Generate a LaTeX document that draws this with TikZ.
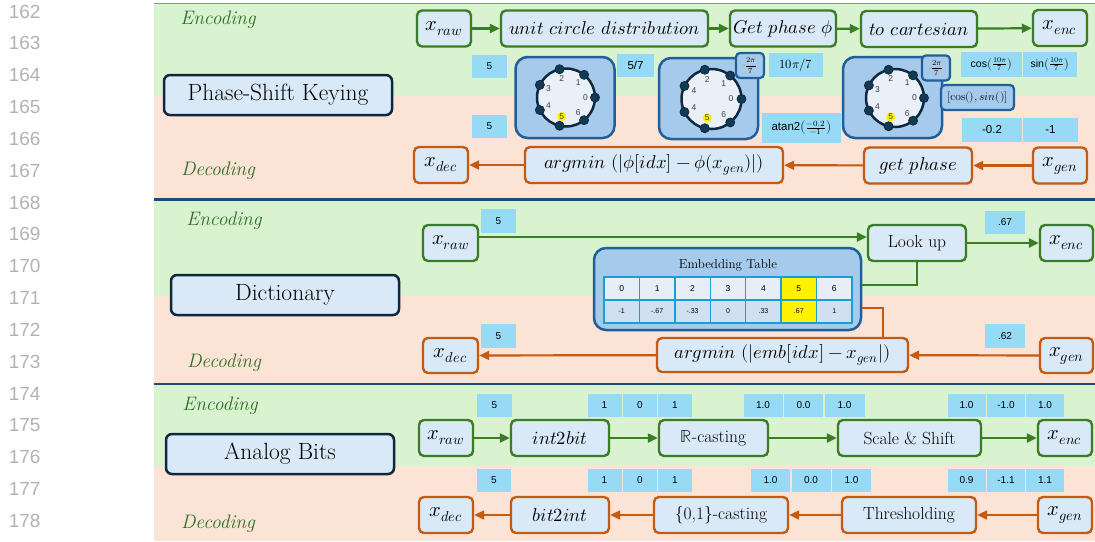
\documentclass[tikz,border=0pt]{standalone}
\usepackage{fontspec}
\usepackage{unicode-math}
\setmathfont{Latin Modern Math}
\setsansfont{Liberation Sans}
\usetikzlibrary{arrows.meta}

\definecolor{encgreen}{RGB}{59,125,35}
\definecolor{decorange}{RGB}{197,90,17}
\definecolor{boxfill}{RGB}{218,233,247}
\definecolor{navy}{RGB}{14,40,65}
\definecolor{encbg}{RGB}{217,242,208}
\definecolor{decbg}{RGB}{251,227,214}
\definecolor{sepblue}{RGB}{23,78,121}
\definecolor{valblue}{RGB}{151,218,246}
\definecolor{circfill}{RGB}{166,202,236}
\definecolor{circline}{RGB}{33,95,154}
\definecolor{dotcol}{RGB}{16,58,85}
\definecolor{innerfill}{RGB}{233,240,248}
\definecolor{cellline}{RGB}{26,158,214}
\definecolor{cellA}{RGB}{231,238,247}
\definecolor{cellB}{RGB}{208,224,240}
\definecolor{labgreen}{RGB}{46,110,36}
\definecolor{lngray}{RGB}{178,178,178}
\definecolor{topline}{RGB}{120,150,170}

\newcommand{\boxfnt}{\fontsize{18.5}{21}\selectfont}
\newcommand{\varfnt}{\fontsize{20.5}{23}\selectfont}
\newcommand{\txtfnt}{\fontsize{17.5}{20}\selectfont}
\newcommand{\titlefnt}{\fontsize{23.5}{27}\selectfont}
\newcommand{\valfnt}{\sffamily\fontsize{10}{12}\selectfont}
\newcommand{\bigvalfnt}{\sffamily\fontsize{11.5}{13}\selectfont}

\begin{document}
\begin{tikzpicture}[x=1pt, y=-1pt,
  % step boxes of the two rows
  encbox/.style={draw=encgreen, line width=2.4pt, fill=boxfill, rounded corners=5pt,
                 minimum height=36pt, inner sep=2pt, font=\boxfnt},
  decbox/.style={encbox, draw=decorange},
  xvar/.style={minimum width=54pt, font=\varfnt},
  titlebox/.style={draw=navy, line width=2.5pt, fill=boxfill, rounded corners=6pt,
                   minimum width=228pt, minimum height=40pt, font=\titlefnt},
  steplab/.style={text=labgreen, font=\itshape\fontsize{19.5}{22}\selectfont},
  lineno/.style={anchor=east, text=lngray, font=\sffamily\fontsize{19}{21}\selectfont},
  % example values
  valbox/.style={fill=valblue, inner sep=0pt, minimum height=23pt, font=\valfnt},
  % unit circle panels
  ringbox/.style={draw=circline, line width=2.5pt, fill=circfill, rounded corners=12pt,
                  minimum width=99pt, minimum height=81pt},
  multbox/.style={draw=circline, line width=2.2pt, fill=circfill, rounded corners=4pt,
                  inner sep=0.5pt, minimum width=28pt, minimum height=25pt,
                  font=\fontsize{7.5}{8}\selectfont},
  ringlab/.style={circle, inner sep=0.6pt, text=black!75, font=\sffamily\fontsize{8.5}{9}\selectfont},
  cell/.style={draw=cellline, line width=1.5pt, minimum width=35.4pt, minimum height=23pt,
               inner sep=0pt, font=\sffamily\fontsize{8.5}{10}\selectfont},
  encline/.style={draw=encgreen, line width=2.2pt},
  decline/.style={draw=decorange, line width=2.2pt},
  encarrow/.style={encline, -{Triangle[length=10pt,width=9pt]}},
  decarrow/.style={decline, -{Triangle[length=10pt,width=9pt]}}
]
  \useasboundingbox (0,0) rectangle (1095,541);

  % Bands
  \fill[encbg] (154,3) rectangle (1095,96);
  \fill[decbg] (154,96) rectangle (1095,199.5);
  \fill[encbg] (154,199.5) rectangle (1095,296);
  \fill[decbg] (154,296) rectangle (1095,384);
  \fill[encbg] (154,384) rectangle (1095,466);
  \fill[decbg] (154,466) rectangle (1095,541);
  \draw[topline, line width=1pt] (154,3) -- (1095,3);
  \draw[sepblue, line width=2.5pt] (154,199.5) -- (1095,199.5);
  \draw[sepblue, line width=2.5pt] (154,384) -- (1095,384);

  % Line numbers
  \foreach \n [count=\i from 0] in {162,...,178}
    \node[lineno] (ln\n) at (44, 11.5+31.85*\i) {\n};

  % ---------------- Phase-Shift Keying ----------------
  \node[titlebox] (psk) at (278,95) {Phase-Shift Keying};
  \node[steplab] (psk_enc) at (218,20) {Encoding};
  \node[steplab] (psk_dec) at (218,171) {Decoding};

  % Encoding row
  \node[encbox, xvar] (raw1) at (444,28.5) {$x_{raw}$};
  \node[encbox, minimum width=207pt] (unitcirc) at (604.5,28.5) {$unit\ circle\ distribution$};
  \node[encbox, minimum width=106pt] (getphi) at (783,28.5) {$Get\ phase\ \phi$};
  \node[encbox, minimum width=116pt] (tocart) at (919,29) {$to\ cartesian$};
  \node[encbox, xvar] (enc1) at (1060,28) {$x_{enc}$};

  \draw[encarrow] (raw1) -- (unitcirc);
  \draw[encarrow] (unitcirc) -- (getphi);
  \draw[encarrow] (getphi) -- (tocart);
  \draw[encarrow] (tocart) -- (enc1);

  % Decoding row
  \node[decbox, xvar] (dec1) at (441,165) {$x_{dec}$};
  \node[decbox, minimum width=258pt] (argmin1) at (654,165) {$argmin\ (|\phi[idx]-\phi(x_{gen})|)$};
  \node[decbox, minimum width=108pt] (getph) at (918,165.5) {$get\ phase$};
  \node[decbox, xvar] (gen1) at (1060,165.5) {$x_{gen}$};

  \draw[decarrow] (gen1) -- (getph);
  \draw[decarrow] (getph) -- (argmin1);
  \draw[decarrow] (argmin1) -- (dec1);

  % Unit circles
  \node[ringbox] (ringbox1) at (565,97.5) {};
  \node[ringbox] (ringbox2) at (708.5,98.5) {};
  \node[ringbox] (ringbox3) at (892.5,97.5) {};
  \foreach \cx/\cy/\rad/\three [count=\j] in {566/97.5/29/3, 711.5/99/30/4, 895/98/29/3} {
    \draw[navy, line width=2.5pt, fill=innerfill, shift={(\cx,\cy)}] (0,0) circle[radius=\rad pt];
    \foreach \lab/\hl [count=\k from 0] in {0/none,1/none,2/none,\three/none,4/none,5/yellow,6/none} {
      \filldraw[fill=dotcol, draw=navy, line width=0.8pt, shift={(\cx,\cy)}]
        (\k*360/7:\rad pt) circle[radius=4.5pt];
      \path[shift={(\cx,\cy)}] (\k*360/7:19.5pt) node[ringlab, fill=\hl] (ring\j_\k) {\lab};
    }
  }
  \node[multbox] (mult2) at (750,65.5) {$\cdot\dfrac{2\pi}{7}$};
  \node[multbox] (mult3) at (936,68) {$\cdot\dfrac{2\pi}{7}$};
  \node[draw=circline, line width=2.2pt, fill=circfill, rounded corners=4pt,
        minimum width=73pt, minimum height=25pt, inner sep=1pt,
        font=\fontsize{11.5}{12}\selectfont] (cossin) at (977.5,97.5) {$[\cos(), sin()]$};

  % Example values
  \node[valbox, minimum width=35pt] (v_in) at (489.5,66.5) {5};
  \node[valbox, minimum width=35pt] (v_out) at (489.5,126.5) {5};
  \node[valbox, minimum width=37pt, font=\bigvalfnt] (v_frac) at (635.5,65.5) {5/7};
  \node[valbox, minimum width=54pt, minimum height=24pt,
        font=\fontsize{12.5}{13}\selectfont] (v_phase) at (796,65) {$10\pi/7$};
  \node[valbox, minimum width=79pt, minimum height=30pt, font=\bigvalfnt] (v_atan) at (801.5,128)
        {atan2$\left(\frac{-0.2}{-1}\right)$};
  \node[valbox, minimum width=61pt, minimum height=25pt, font=\sffamily\fontsize{10.5}{12}\selectfont]
        (v_cos) at (991.5,64.5) {cos$\left(\frac{10\pi}{7}\right)$};
  \node[valbox, minimum width=54pt, minimum height=25pt, font=\sffamily\fontsize{10.5}{12}\selectfont]
        (v_sin) at (1050,64.5) {sin$\left(\frac{10\pi}{7}\right)$};
  \node[valbox, minimum width=60pt, minimum height=24pt, font=\bigvalfnt] (v_re) at (992,130) {-0.2};
  \node[valbox, minimum width=55pt, minimum height=24pt, font=\bigvalfnt] (v_im) at (1050.5,130) {-1};

  % ---------------- Dictionary ----------------
  \node[titlebox] (dict) at (285,295) {Dictionary};
  \node[steplab] (dict_enc) at (224,221) {Encoding};
  \node[steplab] (dict_dec) at (224,363) {Decoding};

  \node[encbox, xvar, minimum width=55pt] (raw2) at (450.5,243) {$x_{raw}$};
  \node[encbox, minimum width=98pt, font=\txtfnt] (lookup) at (917,243) {Look up};
  \node[encbox, xvar, minimum width=53pt] (enc2) at (1066.5,243) {$x_{enc}$};
  \node[valbox, minimum width=35pt, minimum height=24pt] (v_key) at (498.5,221) {5};
  \node[valbox, minimum width=40pt] (v_emb) at (1005,222.5) {.67};

  \draw[encarrow] ([yshift=6pt]raw2.east) -- ([yshift=6pt]lookup.west);
  \draw[encarrow] (lookup) -- (enc2);

  \node[decbox, xvar, minimum width=55pt, minimum height=35pt] (dec2) at (450.5,355.5) {$x_{dec}$};
  \node[decbox, minimum width=251pt, minimum height=34pt] (argmin2) at (782.5,355) {$argmin\ (|emb[idx]-x_{gen}|)$};
  \node[decbox, xvar, minimum width=53pt, minimum height=35pt] (gen2) at (1066.5,355.5) {$x_{gen}$};
  \node[valbox, minimum width=35pt, minimum height=24pt] (v_idx) at (498.5,336) {5};
  \node[valbox, minimum width=40pt, minimum height=24pt] (v_gen) at (1005,336) {.62};

  \draw[decarrow] (gen2) -- (argmin2);
  \draw[decarrow] (argmin2) -- (dec2);

  % Embedding table
  \node[ringbox, minimum width=267pt, minimum height=82pt] (embtab) at (727.5,289) {};
  \node[font=\fontsize{13}{15}\selectfont] (embtitle) at (728,265.5) {Embedding Table};
  \foreach \t/\b/\ct/\cb [count=\i from 0] in
      {0/-1/cellA/cellB, 1/-.67/cellA/cellB, 2/-.33/cellA/cellB, 3/0/cellA/cellB,
       4/.33/cellA/cellB, 5/.67/yellow/yellow, 6/1/cellA/cellB} {
    \node[cell, fill=\ct] (key\i) at (621.7+35.43*\i,288.5) {\t};
    \node[cell, fill=\cb, font=\sffamily\fontsize{7}{8}\selectfont] (val\i) at (621.7+35.43*\i,311.5) {\b};
  }

  \draw[encline] (lookup.south) |- ([yshift=4pt]embtab.east);
  \draw[decline] ([yshift=-18.7pt]embtab.east) -| ([xshift=100.5pt]argmin2.north);

  % ---------------- Analog Bits ----------------
  \node[titlebox] (analog) at (280,454) {Analog Bits};
  \node[steplab] (ab_enc) at (220,406) {Encoding};
  \node[steplab] (ab_dec) at (218,524) {Decoding};

  \node[encbox, xvar] (raw3) at (446,438) {$x_{raw}$};
  \node[encbox, minimum width=98pt] (int2bit) at (560,438) {$int2bit$};
  \node[encbox, minimum width=109pt, font=\txtfnt] (rcast) at (713.5,438) {$\mathbb{R}$-casting};
  \node[encbox, minimum width=143pt, font=\txtfnt] (scale) at (909.5,438) {Scale \& Shift};
  \node[encbox, xvar] (enc3) at (1065,438) {$x_{enc}$};

  \draw[encarrow] (raw3) -- (int2bit);
  \draw[encarrow] (int2bit) -- (rcast);
  \draw[encarrow] (rcast) -- (scale);
  \draw[encarrow] (scale) -- (enc3);

  \node[decbox, xvar] (dec3) at (446,515) {$x_{dec}$};
  \node[decbox, minimum width=98pt] (bit2int) at (560,515) {$bit2int$};
  \node[decbox, minimum width=134pt, font=\txtfnt] (bincast) at (721,515) {\{0,1\}-casting};
  \node[decbox, minimum width=134pt, font=\txtfnt] (thresh) at (909,515) {Thresholding};
  \node[decbox, xvar] (gen3) at (1065,515) {$x_{gen}$};

  \draw[decarrow] (gen3) -- (thresh);
  \draw[decarrow] (thresh) -- (bincast);
  \draw[decarrow] (bincast) -- (bit2int);
  \draw[decarrow] (bit2int) -- (dec3);

  % values along the analog bits rows
  \foreach \x/\w/\t [count=\i] in {494.5/35/5, 604.5/34/1, 640/34/0, 675/34/1,
      763/39/1.0, 803.5/39/0.0, 844.5/40/1.0, 966.5/38/1.0, 1006/38/-1.0, 1045/38/1.0}
    \node[valbox, minimum width=\w pt] (venc\i) at (\x,405.5) {\t};
  \foreach \x/\w/\t [count=\i] in {494/34/5, 604.5/34/1, 640/34/0, 675/34/1,
      770.5/39/1.0, 811/39/0.0, 851.5/39/1.0, 966.5/38/0.9, 1006/38/-1.1, 1045/38/1.1}
    \node[valbox, minimum width=\w pt] (vdec\i) at (\x,480.5) {\t};

\end{tikzpicture}
\end{document}
